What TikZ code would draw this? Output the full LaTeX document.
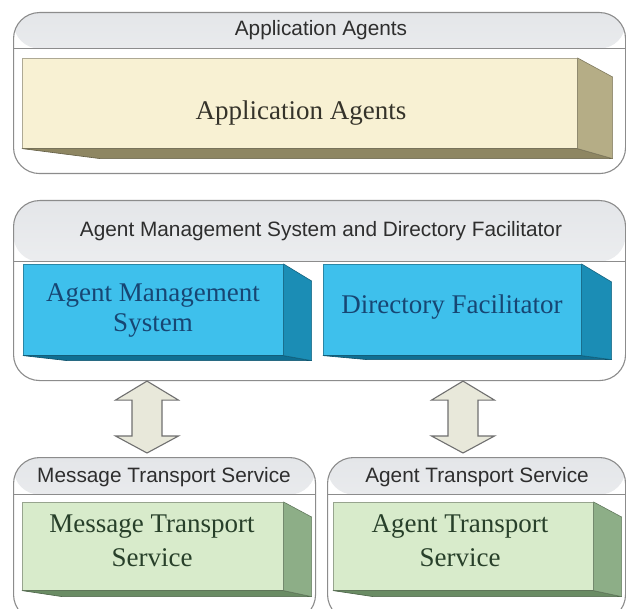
\documentclass[tikz,border=0pt]{standalone}
\usepackage{fontspec}
\newfontfamily\hdfont{Liberation Sans}
\newfontfamily\bxfont{Liberation Serif}
\definecolor{cborder}{HTML}{8C8C8C}
\definecolor{hdtop}{HTML}{E4E6E9}
\definecolor{hdbot}{HTML}{FAFAFA}
\definecolor{yfront}{HTML}{F8F1D3}
\definecolor{yside}{HTML}{B5AD86}
\definecolor{ybot}{HTML}{8E8662}
\definecolor{ytext}{HTML}{35332A}
\definecolor{bfront}{HTML}{3EC0EC}
\definecolor{bside}{HTML}{1B8DB5}
\definecolor{bbot}{HTML}{0F6F93}
\definecolor{btext}{HTML}{174673}
\definecolor{gfront}{HTML}{D8EBCB}
\definecolor{gside}{HTML}{8DAE87}
\definecolor{gbot}{HTML}{6A8C64}
\definecolor{gtext}{HTML}{28402A}
\definecolor{arfill}{HTML}{E8E8DA}
\definecolor{arline}{HTML}{707070}
\tikzset{
  container/.style={draw=cborder, line width=1.1pt, rounded corners=26pt, fill=white,
    anchor=north west, inner sep=0pt,
    path picture={
      \path[top color=hdtop, bottom color=hdbot]
        (path picture bounding box.north west) rectangle ([yshift=-#1]path picture bounding box.north east);
      \draw[cborder, line width=1.1pt]
        ([yshift=-#1]path picture bounding box.north west) -- ([yshift=-#1]path picture bounding box.north east);}},
  hdlabel/.style={font=\hdfont\fontsize{20.8}{24}\selectfont, text=black!82, anchor=base, inner sep=0pt},
  face/.style={anchor=north west, inner sep=0pt, draw=#1!70!black, line width=0.6pt},
  facetext/.style={font=\bxfont\fontsize{27}{30}\selectfont, align=center, inner sep=0pt},
  sideface/.style={fill=#1, draw=#1!70!black, line width=0.6pt, line join=round},
  dblarrow/.style={fill=arfill, draw=arline, line width=1.1pt, line join=miter},
}
\newcommand\mkdepth[7]{% name, dx, dytop, dybot, taper, sidecolor, botcolor
  \path[sideface=#7] (#1.south west) -- (#1.south east) -- ([shift={(#2,#4)}]#1.south east)
     -- ([shift={(#5,#4)}]#1.south west) -- cycle;
  \path[sideface=#6] (#1.north east) -- ([shift={(#2,#3)}]#1.north east)
     -- ([shift={(#2,#4)}]#1.south east) -- (#1.south east) -- cycle;
}
\newcommand\mkarrow[2]{%
  \path[dblarrow] (#1) -- ([shift={(31.5,19)}]#1) -- ([shift={(15,19)}]#1)
    -- ([shift={(15,-17)}]#2) -- ([shift={(31.5,-17)}]#2) -- (#2)
    -- ([shift={(-31.5,-17)}]#2) -- ([shift={(-15,-17)}]#2)
    -- ([shift={(-15,19)}]#1) -- ([shift={(-31.5,19)}]#1) -- cycle;
}
\begin{document}
\begin{tikzpicture}[x=1pt,y=-1pt]
\useasboundingbox (0,0) rectangle (626,609);
\clip (0,0) rectangle (626,609);
\fill[white] (0,0) rectangle (626,609);

% containers
\node[container=36pt, minimum width=612pt, minimum height=161pt] (topc) at (13,12) {};
\node[container=61pt, minimum width=612pt, minimum height=180pt] (midc) at (13,200) {};
\node[container=37pt, minimum width=302pt, minimum height=163pt] (mtsc) at (13,457) {};
\node[container=37pt, minimum width=298pt, minimum height=163pt] (atsc) at (327,457) {};

% header labels
\node[hdlabel] (topl) at (321,36) {Application Agents};
\node[hdlabel] (midl) at (321,237) {Agent Management System and Directory Facilitator};
\node[hdlabel] (mtsl) at (164,482) {Message Transport Service};
\node[hdlabel] (atsl) at (477,482) {Agent Transport Service};

% 3D boxes
\node[face=yfront, fill=yfront, minimum width=555pt, minimum height=90pt] (aa) at (22,58) {};
\mkdepth{aa}{35}{19}{10}{78}{yside}{ybot}
\node[facetext, text=ytext, anchor=base] (aat) at (301,120) {Application Agents};

\node[face=bfront, fill=bfront, minimum width=260pt, minimum height=91pt] (ams) at (23,264) {};
\mkdepth{ams}{28}{17}{5}{44}{bside}{bbot}
\node[facetext, text=btext] (amst) at (153,311) {Agent Management\\System};

\node[face=bfront, fill=bfront, minimum width=258pt, minimum height=91pt] (df) at (323,264) {};
\mkdepth{df}{30}{18}{4}{44}{bside}{bbot}
\node[facetext, text=btext, anchor=base] (dft) at (452,314) {Directory Facilitator};

\node[face=gfront, fill=gfront, minimum width=261pt, minimum height=88pt] (mts) at (22,502) {};
\mkdepth{mts}{28}{15}{6}{40}{gside}{gbot}
\node[facetext, text=gtext, font=\bxfont\fontsize{27}{34}\selectfont] (mtst) at (152,541) {Message Transport\\Service};

\node[face=gfront, fill=gfront, minimum width=260pt, minimum height=88pt] (ats) at (333,502) {};
\mkdepth{ats}{28}{15}{6}{40}{gside}{gbot}
\node[facetext, text=gtext, font=\bxfont\fontsize{27}{34}\selectfont] (atst) at (460,541) {Agent Transport\\Service};

% double arrows between layers
\coordinate (la1) at ([xshift=134pt]midc.south west);
\coordinate (la2) at ([xshift=134pt, yshift=4pt]mtsc.north west);
\coordinate (ra1) at ([xshift=450pt]midc.south west);
\coordinate (ra2) at ([xshift=136pt, yshift=4pt]atsc.north west);
\mkarrow{la1}{la2}
\mkarrow{ra1}{ra2}
\end{tikzpicture}
\end{document}
